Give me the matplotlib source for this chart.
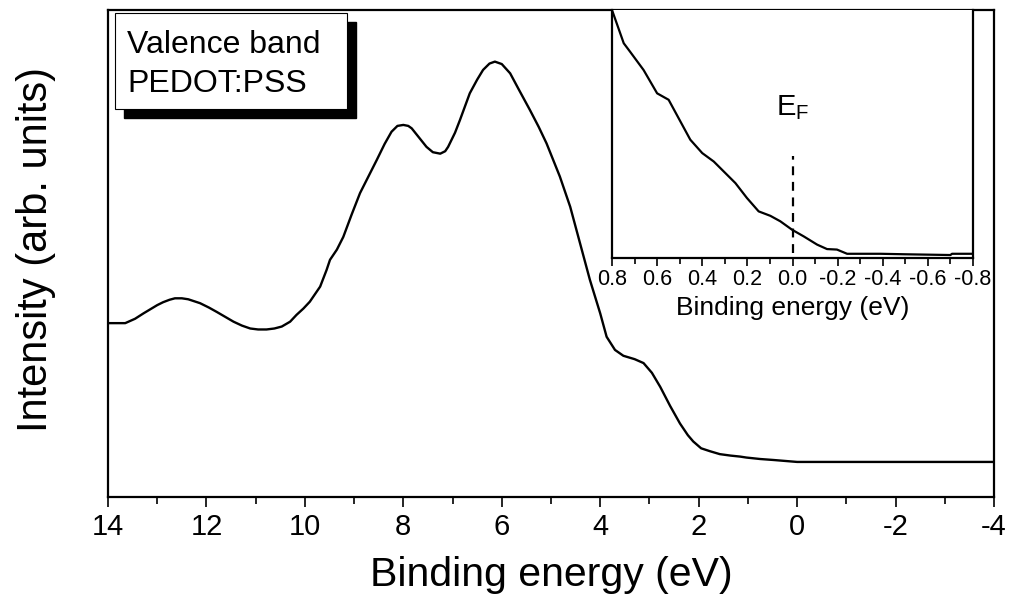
import numpy as np
import matplotlib
matplotlib.use('Agg')
import matplotlib.pyplot as plt
from matplotlib.patches import Rectangle
from matplotlib.ticker import MultipleLocator, FormatStrFormatter

plt.rcParams['font.family'] = ['Liberation Sans', 'DejaVu Sans']
plt.rcParams['axes.unicode_minus'] = False

# main valence band spectrum (binding energy in eV, intensity arb. units)
be_main = [14.0, 13.65, 13.45, 13.28, 13.0, 12.88, 12.75, 12.64, 12.5, 12.37,
           12.25, 12.13, 11.95, 11.79, 11.62, 11.45, 11.28, 11.11, 10.95, 10.78,
           10.62, 10.47, 10.3, 10.17, 10.03, 9.90, 9.69, 9.56, 9.49, 9.35,
           9.22, 9.05, 8.88, 8.7, 8.54, 8.38, 8.24, 8.12, 8.00, 7.9,
           7.83, 7.68, 7.53, 7.4, 7.25, 7.15, 7.09, 6.95, 6.85, 6.65,
           6.5, 6.38, 6.25, 6.14, 6.0, 5.83, 5.65, 5.43, 5.25, 5.09,
           4.82, 4.61, 4.41, 4.21, 4.00, 3.87, 3.7, 3.53, 3.3, 3.12,
           2.95, 2.78, 2.58, 2.38, 2.22, 2.11, 1.95, 1.77, 1.57, 1.35,
           1.16, 1.03, 0.75, 0.48, 0.0, -4.0]
int_main = [0.357, 0.357, 0.366, 0.377, 0.394, 0.400, 0.405, 0.408, 0.408, 0.406,
            0.402, 0.398, 0.389, 0.380, 0.370, 0.360, 0.352, 0.346, 0.344, 0.344,
            0.346, 0.350, 0.360, 0.374, 0.387, 0.401, 0.432, 0.466, 0.487, 0.508,
            0.534, 0.580, 0.624, 0.660, 0.692, 0.725, 0.750, 0.762, 0.764, 0.762,
            0.757, 0.738, 0.719, 0.708, 0.705, 0.710, 0.719, 0.748, 0.774, 0.829,
            0.857, 0.877, 0.890, 0.894, 0.889, 0.870, 0.836, 0.795, 0.760, 0.726,
            0.658, 0.596, 0.521, 0.446, 0.377, 0.329, 0.302, 0.290, 0.283, 0.275,
            0.255, 0.226, 0.187, 0.151, 0.127, 0.114, 0.100, 0.094, 0.088, 0.085,
            0.083, 0.081, 0.078, 0.076, 0.072, 0.072]

# inset: zoom around the Fermi level
be_fermi = [0.80, 0.748, 0.72, 0.66, 0.60, 0.549, 0.453, 0.40, 0.349, 0.253,
            0.202, 0.150, 0.098, 0.054, 0.002, -0.05, -0.109, -0.153, -0.197, -0.242,
            -0.39, -0.50, -0.70, -0.707, -0.80]
int_fermi = [1.0, 0.866, 0.832, 0.758, 0.664, 0.638, 0.477, 0.423, 0.389, 0.302,
             0.242, 0.188, 0.170, 0.148, 0.114, 0.087, 0.054, 0.036, 0.034, 0.017,
             0.017, 0.015, 0.012, 0.017, 0.017]

W, H = 1010, 610
fig = plt.figure(figsize=(W / 100, H / 100), dpi=100)

def fr(px, py):
    return px / W, 1 - py / H

# ── main axes ───────────────────────────────────────────────────────────────
ax = fig.add_axes([108 / W, 1 - 497 / H, (994 - 108) / W, (497 - 10) / H])
ax.plot(be_main, int_main, color='black', lw=1.7, solid_joinstyle='round')
ax.set_xlim(14, -4)
ax.set_ylim(0, 1)
ax.xaxis.set_major_locator(MultipleLocator(2))
ax.xaxis.set_minor_locator(MultipleLocator(1))
ax.set_yticks([])
ax.tick_params(axis='x', which='major', direction='out', length=7.5, width=1.2,
               labelsize=21, pad=4)
ax.tick_params(axis='x', which='minor', direction='out', length=5, width=1.2)
for sp in ax.spines.values():
    sp.set_linewidth(1.6)
ax.set_xlabel('Binding energy (eV)', fontsize=29.5, labelpad=11)
fig.text(36 / W, 1 - 250 / H, 'Intensity (arb. units)', rotation=90,
         fontsize=30, ha='center', va='center')

# label box with shadow
x0, y0 = fr(115, 109)
x1, y1 = fr(347, 13)
fig.patches.append(Rectangle((x0 + 9 / W, y0 - 9 / H), x1 - x0, y1 - y0,
                             transform=fig.transFigure, facecolor='black',
                             edgecolor='black', zorder=5))
fig.patches.append(Rectangle((x0, y0), x1 - x0, y1 - y0,
                             transform=fig.transFigure, facecolor='white',
                             edgecolor='black', lw=0.8, zorder=6))
fig.text(*fr(127, 53), 'Valence band', fontsize=23, va='baseline', zorder=7)
fig.text(*fr(127, 92), 'PEDOT:PSS', fontsize=23, va='baseline', zorder=7)

# ── inset ──────────────────────────────────────────────────────────────────
ins = fig.add_axes([612 / W, 1 - 258 / H, (973 - 612) / W, (258 - 10) / H])
ins.plot(be_fermi, int_fermi, color='black', lw=1.6, solid_joinstyle='round')
ins.axvline(0, ymin=0.02, ymax=0.41, color='black', lw=1.6, ls=(0, (4, 3)))
ins.set_xlim(0.8, -0.8)
ins.set_ylim(0, 1)
ins.xaxis.set_major_locator(MultipleLocator(0.2))
ins.xaxis.set_minor_locator(MultipleLocator(0.1))
ins.xaxis.set_major_formatter(FormatStrFormatter('%.1f'))
ins.set_yticks([])
ins.tick_params(axis='x', which='major', direction='out', length=6, width=1.2,
                labelsize=15.5, pad=2)
ins.tick_params(axis='x', which='minor', direction='out', length=4, width=1.2)
for sp in ins.spines.values():
    sp.set_linewidth(1.6)
ins.spines['top'].set_visible(False)
ins.set_xlabel('Binding energy (eV)', fontsize=19, labelpad=4)
ins.text(0.0, 0.55, r'E$_\mathregular{F}$', fontsize=21, ha='center', va='bottom')

fig.savefig('out.png', dpi=100)
